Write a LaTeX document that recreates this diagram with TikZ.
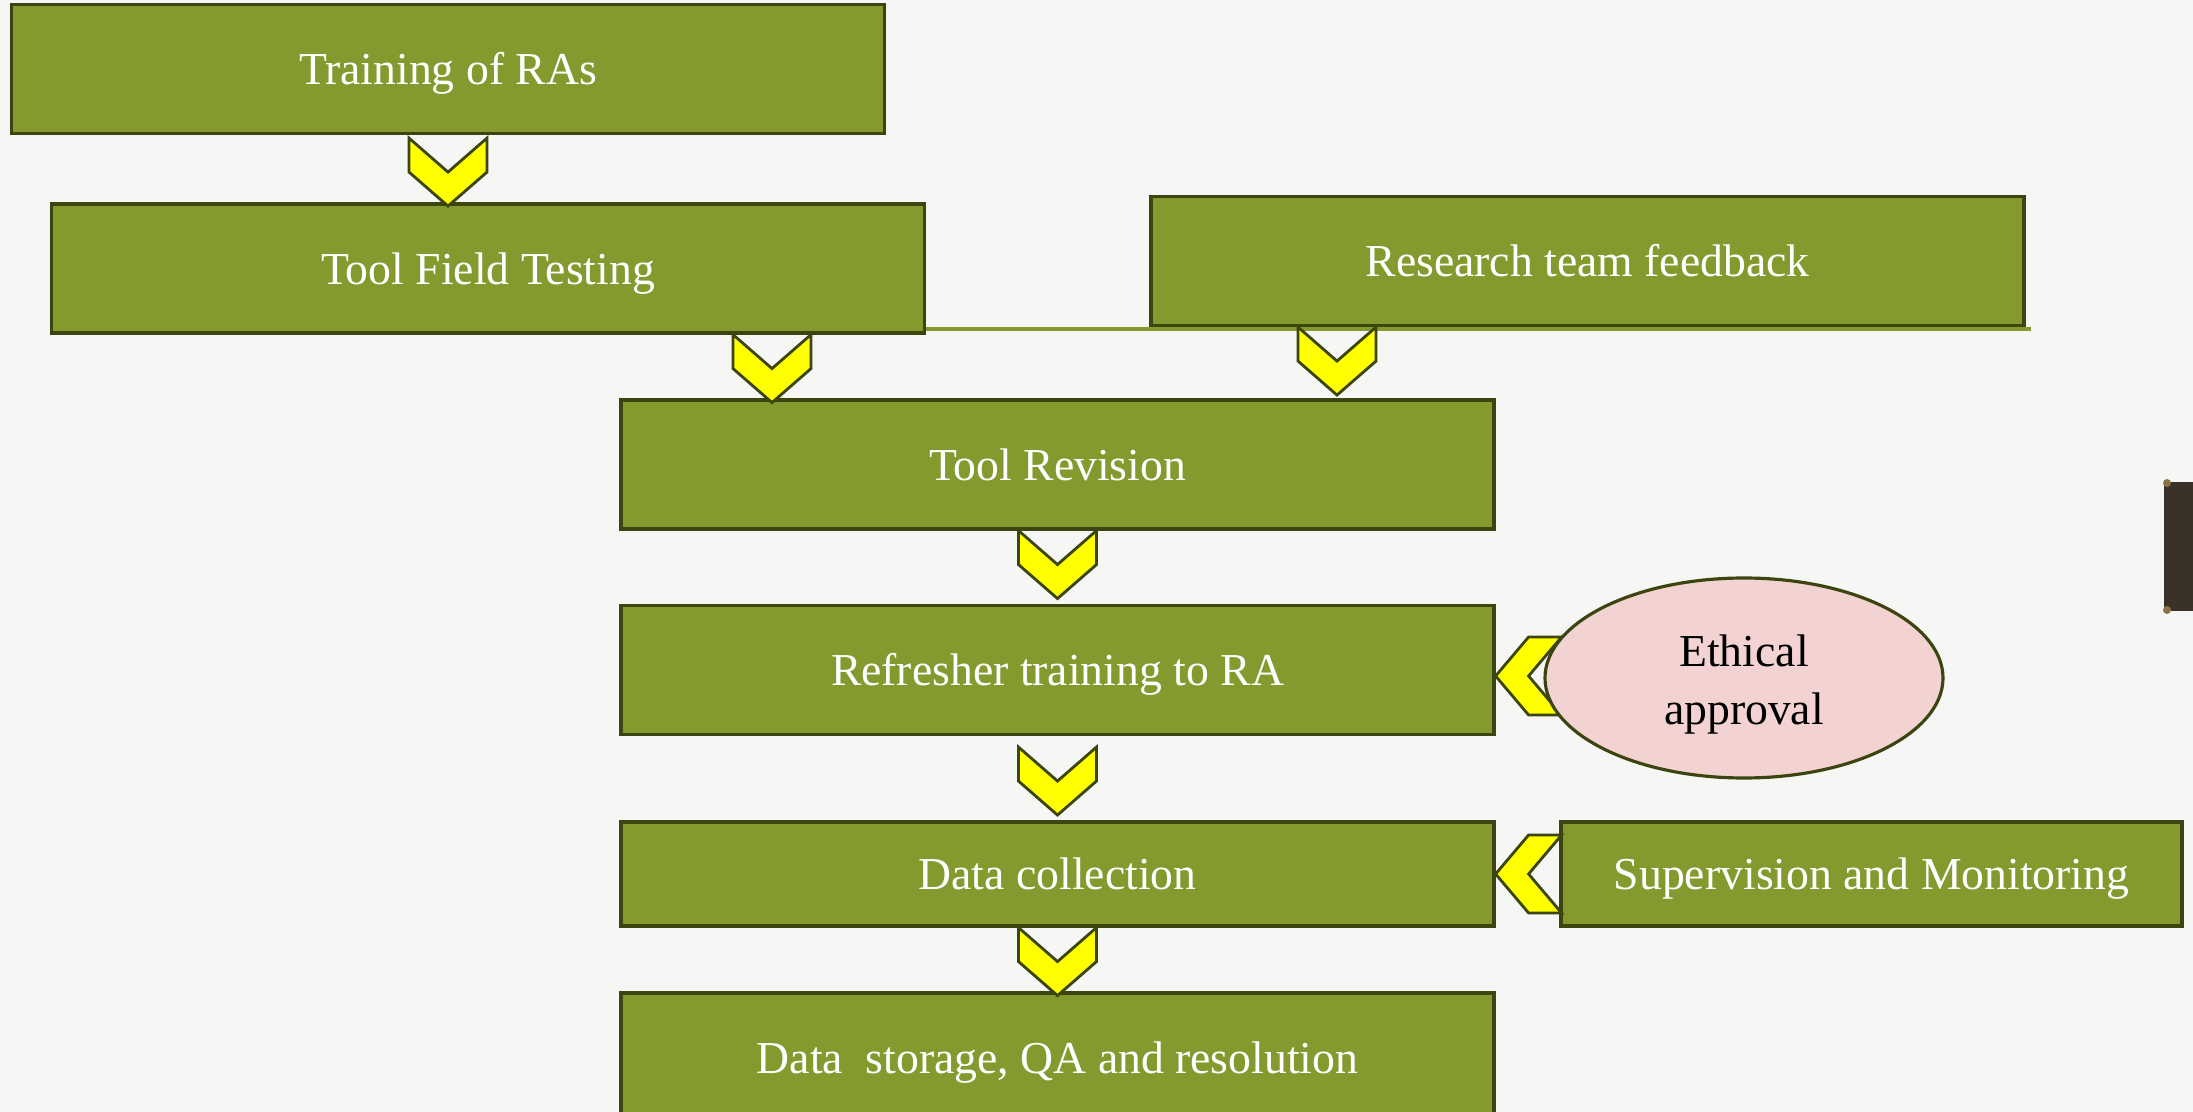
\documentclass[tikz,border=0pt]{standalone}
\usepackage{fontspec}
\setmainfont{Liberation Serif}
\usepackage{tikz}
\usetikzlibrary{calc, shapes.geometric}

\definecolor{paper}{HTML}{F6F6F4}
\definecolor{boxgreen}{HTML}{849A2E}
\definecolor{boxline}{HTML}{3C4510}
\definecolor{chevyellow}{HTML}{FFFF00}
\definecolor{ethpink}{HTML}{F2D3D2}
\definecolor{tabbrown}{HTML}{3A3129}
\definecolor{tabgold}{HTML}{8B7347}

\begin{document}
\begin{tikzpicture}[
        box/.style={draw=boxline, line width=0.9pt, fill=boxgreen, text=white,
            minimum width=8.73cm, minimum height=1.29cm, inner sep=0pt,
            text height=9pt, text depth=0pt, font=\fontsize{13}{15.6}\selectfont},
        chev/.style={draw=boxline, line width=0.8pt, fill=chevyellow},
        chevdown/.pic={\path[chev] (-0.39,0) -- (0,-0.34) -- (0.39,0) -- (0.39,-0.34)
            -- (0,-0.68) -- (-0.39,-0.34) -- cycle;},
        chevleft/.pic={\path[chev] (0,0) -- (0.33,0.39) -- (0.66,0.39) -- (0.33,0)
            -- (0.66,-0.39) -- (0.33,-0.39) -- cycle;}
    ]
                \fill[paper] (0,-11.12) rectangle (21.93,0);
                \useasboundingbox (0,-11.12) rectangle (21.93,0);
                % rule under the feedback box
                \coordinate (ruleL) at (9.24,-3.29);
                \coordinate (ruleR) at (20.31,-3.29);
                \draw[boxgreen, line width=1pt] (ruleL) -- (ruleR);
                \node[box] (train) at (4.48,-0.69) {Training of RAs};
                \node[box] (field) at (4.88,-2.685) {Tool Field Testing};
                \node[box] (feedback) at (15.875,-2.61) {Research team feedback};
                \node[box] (revision) at (10.575,-4.645) {Tool Revision};
                \node[box] (refresher) at (10.575,-6.70) {Refresher training to RA};
                \node[box, minimum height=1.04cm] (collect) at (10.575,-8.74) {Data collection};
                \node[box, minimum width=6.21cm, minimum height=1.04cm] (superv) at (18.715,-8.74) {Supervision and Monitoring};
                \node[box] (storage) at (10.575,-10.575) {Data\ \ storage, QA and resolution};
                % chevrons between the steps
                \path (train.south) ++(0,-0.03) pic {chevdown};
                \path (revision.center |- field.south) ++(-2.855,0) pic {chevdown};
                \path (revision.center |- feedback.south) ++(2.795,0) pic {chevdown};
                \path (revision.south) pic {chevdown};
                \path (refresher.south) ++(0,-0.11) pic {chevdown};
                \path (collect.south) pic {chevdown};
                \path (refresher.east) ++(0,-0.06) pic {chevleft};
                \path (collect.east) pic {chevleft};
                \node[ellipse, draw=boxline, line width=0.9pt, fill=ethpink, minimum width=3.98cm,
                    minimum height=2cm, inner sep=0pt, align=center,
                    font=\fontsize{13}{16.6}\selectfont] (ethics) at (17.44,-6.78) {\rule{0pt}{4.5mm}Ethical\\approval};
                % edge of the next slide
                \fill[tabbrown] (21.64,-4.82) rectangle (21.93,-6.11);
                \fill[tabgold] (21.67,-4.83) circle (0.04) (21.67,-6.10) circle (0.04);
\end{tikzpicture}
\end{document}
